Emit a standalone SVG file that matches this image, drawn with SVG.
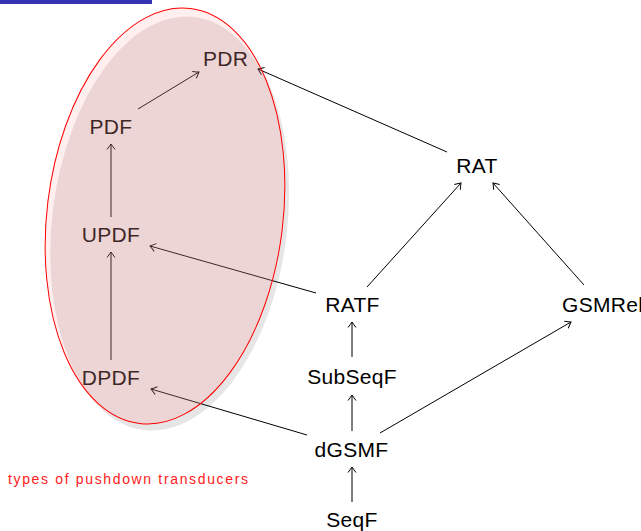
<svg xmlns="http://www.w3.org/2000/svg" width="641" height="531" viewBox="0 0 641 531">
<style>
.n{font-family:"Liberation Sans",Arial,sans-serif;font-size:21px;fill:#000;text-anchor:middle;letter-spacing:0.3px}
.e line{stroke:#000;stroke-width:1;marker-end:url(#ah)}
.lbl{font-family:"Liberation Sans",Arial,sans-serif;font-size:14px;fill:#ff2020}
</style>
<defs>
<marker id="ah" markerUnits="userSpaceOnUse" markerWidth="12" markerHeight="12" viewBox="-7 -6 8 12" refX="0" refY="0" orient="auto">
<path d="M-5.5,-4 Q-1.5,-1 0,0 Q-1.5,1 -5.5,4" fill="none" stroke="#000" stroke-width="1"/>
</marker>
<clipPath id="ec"><ellipse cx="0" cy="0" rx="118" ry="209"/></clipPath>
</defs>
<rect x="0" y="0" width="152" height="4" fill="#3333b3"/>
<g id="set-shadow" transform="translate(165,216) rotate(7)">
<ellipse cx="5" cy="6" rx="118" ry="209" fill="#e6e6e6"/>
<ellipse cx="0" cy="0" rx="118" ry="209" fill="#fff"/>
</g>
<g id="connectors" class="e">
<line x1="138" y1="109" x2="199" y2="72"/>
<line x1="111" y1="217" x2="111" y2="144"/>
<line x1="111" y1="360" x2="111" y2="252"/>
<line x1="447" y1="152" x2="258" y2="69"/>
<line x1="367" y1="287" x2="461" y2="183"/>
<line x1="584" y1="285" x2="493" y2="183"/>
<line x1="316" y1="293" x2="150" y2="246"/>
<line x1="352" y1="357" x2="352" y2="322"/>
<line x1="352" y1="431" x2="352" y2="395"/>
<line x1="307" y1="435" x2="151" y2="389"/>
<line x1="380" y1="433" x2="571" y2="322"/>
<line x1="352" y1="502" x2="352" y2="467"/>
</g>
<g id="PDR"><text class="n" x="225.5" y="66">PDR</text></g>
<g id="PDF"><text class="n" x="111" y="134">PDF</text></g>
<g id="UPDF"><text class="n" x="111" y="242">UPDF</text></g>
<g id="DPDF"><text class="n" x="111" y="385">DPDF</text></g>
<g id="RAT"><text class="n" x="477" y="173">RAT</text></g>
<g id="RATF"><text class="n" x="352.5" y="312">RATF</text></g>
<g id="GSMRel"><text class="n" x="562" y="312" style="text-anchor:start">GSMRel</text></g>
<g id="SubSeqF"><text class="n" x="352" y="384">SubSeqF</text></g>
<g id="dGSMF"><text class="n" x="351.5" y="457">dGSMF</text></g>
<g id="SeqF"><text class="n" x="352" y="527">SeqF</text></g>
<g id="set" transform="translate(165,216) rotate(7)">
<ellipse cx="0" cy="0" rx="118" ry="209" fill="rgb(255,120,120)" fill-opacity="0.12"/>
<g clip-path="url(#ec)">
<ellipse cx="5" cy="7" rx="117" ry="208" fill="rgb(175,125,125)" fill-opacity="0.22"/>
</g>
<ellipse cx="0" cy="0" rx="118" ry="209" fill="none" stroke="#ff0000" stroke-width="1"/>
</g>
<g id="label"><text class="lbl" x="8" y="484" textLength="240" lengthAdjust="spacing">types of pushdown transducers</text></g>
</svg>
